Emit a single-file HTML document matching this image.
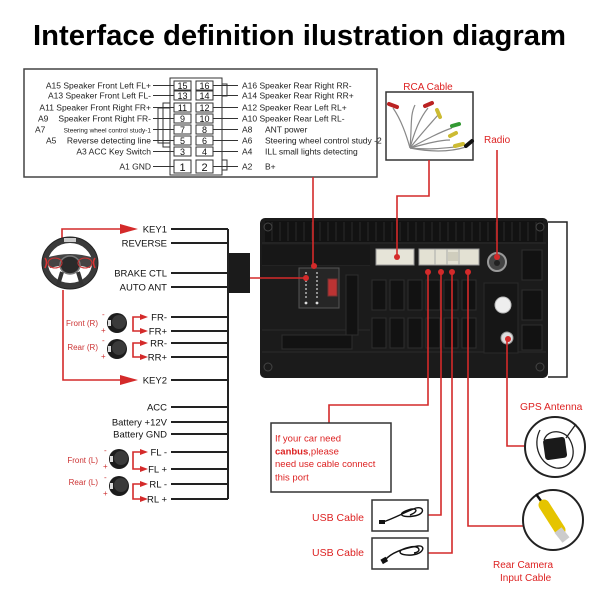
<!DOCTYPE html>
<html><head><meta charset="utf-8"><style>
html,body{margin:0;padding:0;background:#fff;}
svg{display:block;font-family:"Liberation Sans",Arial,sans-serif;}
</style></head><body>
<svg width="600" height="600" viewBox="0 0 600 600" xmlns="http://www.w3.org/2000/svg">
<rect width="600" height="600" fill="#fff"/>
<!-- Title -->
<text x="33" y="45" font-size="29" font-weight="bold" fill="#000" textLength="533" lengthAdjust="spacingAndGlyphs">Interface definition ilustration diagram</text>

<!-- Pin box -->
<rect x="24" y="69" width="353" height="108" fill="#fff" stroke="#444" stroke-width="1.5"/>
<g stroke="#333" stroke-width="1" fill="none">
  <rect x="170" y="78" width="52" height="97"/>
  <path d="M170,103 H163 V147 H170 M170,108 H158 V143 H170"/>
  <path d="M222,84 H227 V96 H222 M222,160 H227 V170 H222"/>
  <!-- cells -->
  <rect x="174" y="81" width="17" height="9"/><rect x="196" y="81" width="17" height="9"/>
  <rect x="174" y="91" width="17" height="9"/><rect x="196" y="91" width="17" height="9"/>
  <rect x="174" y="103" width="17" height="9"/><rect x="196" y="103" width="17" height="9"/>
  <rect x="174" y="114" width="17" height="9"/><rect x="196" y="114" width="17" height="9"/>
  <rect x="174" y="125" width="17" height="9"/><rect x="196" y="125" width="17" height="9"/>
  <rect x="174" y="136" width="17" height="9"/><rect x="196" y="136" width="17" height="9"/>
  <rect x="174" y="147" width="17" height="9"/><rect x="196" y="147" width="17" height="9"/>
  <rect x="174" y="160" width="17" height="13"/><rect x="196" y="160" width="17" height="13"/>
  <!-- leader lines -->
  <path d="M153,85.5 H174 M153,95.5 H174 M153,107.5 H174 M153,118.5 H174 M153,129.5 H174 M153,140.5 H174 M153,151.5 H174 M153,166.5 H174"/>
  <path d="M213,85.5 H238 M213,95.5 H238 M213,107.5 H238 M213,118.5 H238 M213,129.5 H238 M213,140.5 H238 M213,151.5 H238 M213,166.5 H238"/>
</g>
<g font-size="9" fill="#111" text-anchor="middle">
  <text x="182.5" y="89">15</text><text x="204.5" y="89">16</text>
  <text x="182.5" y="99">13</text><text x="204.5" y="99">14</text>
  <text x="182.5" y="111">11</text><text x="204.5" y="111">12</text>
  <text x="182.5" y="122">9</text><text x="204.5" y="122">10</text>
  <text x="182.5" y="133">7</text><text x="204.5" y="133">8</text>
  <text x="182.5" y="144">5</text><text x="204.5" y="144">6</text>
  <text x="182.5" y="155">3</text><text x="204.5" y="155">4</text>
  <text x="182.5" y="171" font-size="11">1</text><text x="204.5" y="171" font-size="11">2</text>
</g>
<g font-size="8.5" fill="#222">
  <g text-anchor="end">
    <text x="151" y="88.5">A15 Speaker Front Left FL+</text>
    <text x="151" y="98.5">A13 Speaker Front Left FL-</text>
    <text x="151" y="110.5">A11 Speaker Front Right FR+</text>
    <text x="151" y="121.5">Speaker Front Right FR-</text>
    <text x="151" y="132.5" font-size="6.5">Steering wheel control study-1</text>
    <text x="151" y="143.5">Reverse detecting line</text>
    <text x="151" y="154.5">A3 ACC Key Switch</text>
    <text x="151" y="169.5">A1 GND</text>
  </g>
  <text x="38" y="121.5">A9</text>
  <text x="35" y="132.5">A7</text>
  <text x="46" y="143.5">A5</text>
  <text x="242" y="88.5">A16 Speaker Rear Right RR-</text>
  <text x="242" y="98.5">A14 Speaker Rear Right RR+</text>
  <text x="242" y="110.5">A12 Speaker Rear Left RL+</text>
  <text x="242" y="121.5">A10 Speaker Rear Left RL-</text>
  <text x="242" y="132.5">A8</text><text x="265" y="132.5">ANT power</text>
  <text x="242" y="143.5">A6</text><text x="265" y="143.5">Steering wheel control study -2</text>
  <text x="242" y="154.5">A4</text><text x="265" y="154.5">ILL small lights detecting</text>
  <text x="242" y="169.5">A2</text><text x="265" y="169.5">B+</text>
</g>

<!-- RCA Cable -->
<text x="428" y="90" font-size="10" fill="#d22" text-anchor="middle">RCA Cable</text>
<rect x="386" y="92" width="87" height="68" fill="#fff" stroke="#333" stroke-width="1.5"/>
<g stroke="#888" stroke-width="1.2" fill="none">
  <path d="M410,148 C405,130 400,118 393,108"/>
  <path d="M410,148 C415,130 420,118 428,108"/>
  <path d="M410,148 C420,135 432,122 438,115"/>
  <path d="M410,148 C425,140 440,132 452,128"/>
  <path d="M410,148 C425,144 440,140 450,140"/>
  <path d="M410,148 C430,150 445,148 455,147"/>
  <path d="M410,148 C430,152 450,152 466,147"/>
  <path d="M410,148 C412,125 410,115 415,105"/>
</g>
<g stroke-width="4" stroke-linecap="round">
  <path d="M389,104 L397,107" stroke="#b22"/>
  <path d="M425,106 L432,103" stroke="#b22"/>
  <path d="M437,110 L440,117" stroke="#cb3"/>
  <path d="M452,126 L459,124" stroke="#393"/>
  <path d="M450,136 L456,133" stroke="#cb3"/>
  <path d="M455,146 L463,144" stroke="#cb3"/>
  <path d="M466,146 L472,141" stroke="#111"/>
</g>

<!-- Radio -->
<text x="484" y="143" font-size="10" fill="#d22">Radio</text>

<!-- Unit -->
<rect x="260" y="218" width="288" height="160" rx="5" fill="#1b1b1b"/>
<rect x="265" y="221" width="278" height="21" fill="#121212"/>
<g stroke="#2b2b2b" stroke-width="1">
  <path d="M272,222 V241 M280,222 V241 M288,222 V241 M296,222 V241 M304,222 V241 M312,222 V241 M320,222 V241 M328,222 V241 M336,222 V241 M344,222 V241 M352,222 V241 M360,222 V241 M368,222 V241 M376,222 V241 M384,222 V241 M392,222 V241 M400,222 V241 M408,222 V241 M416,222 V241 M424,222 V241 M432,222 V241 M440,222 V241 M448,222 V241 M456,222 V241 M464,222 V241 M472,222 V241 M480,222 V241 M488,222 V241 M496,222 V241 M504,222 V241 M512,222 V241 M520,222 V241 M528,222 V241 M536,222 V241"/>
  <path d="M262,243 H546 M262,265 H370 M262,330 H370 M262,352 H546"/>
</g>
<rect x="262" y="245" width="108" height="20" fill="#171717"/>
<g stroke="#2e2e2e" fill="#121212">
  <rect x="372" y="280" width="14" height="30"/><rect x="390" y="280" width="14" height="30"/>
  <rect x="408" y="280" width="14" height="30"/><rect x="426" y="280" width="14" height="30"/>
  <rect x="444" y="280" width="14" height="30"/><rect x="462" y="280" width="14" height="30"/>
  <rect x="372" y="318" width="14" height="30"/><rect x="390" y="318" width="14" height="30"/>
  <rect x="408" y="318" width="14" height="30"/><rect x="426" y="318" width="14" height="30"/>
  <rect x="444" y="318" width="14" height="30"/><rect x="462" y="318" width="14" height="30"/>
  <rect x="522" y="250" width="20" height="30"/><rect x="522" y="290" width="20" height="30"/><rect x="522" y="325" width="20" height="25"/>
  <rect x="346" y="275" width="12" height="60"/>
  <rect x="282" y="335" width="70" height="14"/>
</g>
<rect x="484" y="283" width="34" height="70" fill="#161616" stroke="#2a2a2a"/>
<g fill="none" stroke="#444"><circle cx="268" cy="227" r="4"/><circle cx="540" cy="227" r="4"/><circle cx="268" cy="367" r="4"/><circle cx="540" cy="367" r="4"/></g>
<!-- ISO connector -->
<rect x="299" y="268" width="40" height="40" fill="#262626" stroke="#555"/>
<g fill="#ddd">
  <circle cx="306" cy="273" r="0.9"/><circle cx="306" cy="277" r="0.9"/><circle cx="306" cy="281" r="0.9"/><circle cx="306" cy="285" r="0.9"/><circle cx="306" cy="289" r="0.9"/><circle cx="306" cy="293" r="0.9"/><circle cx="306" cy="297" r="0.9"/><circle cx="306" cy="303" r="1.4"/>
  <circle cx="317" cy="273" r="0.9"/><circle cx="317" cy="277" r="0.9"/><circle cx="317" cy="281" r="0.9"/><circle cx="317" cy="285" r="0.9"/><circle cx="317" cy="289" r="0.9"/><circle cx="317" cy="293" r="0.9"/><circle cx="317" cy="297" r="0.9"/><circle cx="317" cy="303" r="1.4"/>
</g>
<rect x="328" y="279" width="9" height="17" fill="#b33" stroke="#733"/>
<!-- white connectors -->
<rect x="376" y="249" width="38" height="16" fill="#e6e4d8" stroke="#999"/>
<rect x="419" y="249" width="60" height="16" fill="#e3e1d3" stroke="#999"/>
<path d="M435,249 V265 M447,249 V265 M459,249 V265" stroke="#aaa"/>
<rect x="448" y="252" width="10" height="9" fill="#cfcdbd"/>
<!-- antenna socket -->
<circle cx="497" cy="262" r="9" fill="#444" stroke="#9a9a9a" stroke-width="2"/>
<circle cx="497" cy="263" r="3" fill="#222"/>
<circle cx="503" cy="305" r="8" fill="#eee" stroke="#bbb"/>
<circle cx="507" cy="338" r="6" fill="#ddd" stroke="#999"/>

<!-- bracket right of unit -->
<path d="M548,222 H567 V377 H548" fill="none" stroke="#222" stroke-width="1.5"/>

<!-- left black box & bus -->
<rect x="227" y="253" width="23" height="40" fill="#1b1b1b"/>
<path d="M228,229 V499" stroke="#222" stroke-width="2"/>
<g stroke="#222" stroke-width="2">
  <path d="M171,229 H228 M171,243 H228 M171,273 H228 M171,287 H228 M171,317 H228 M171,331 H228 M171,343 H228 M171,357 H228 M171,380 H228 M171,407 H228 M171,422 H228 M171,434 H228 M171,452 H228 M171,469 H228 M171,484 H228 M171,499 H228"/>
</g>
<g font-size="9.5" fill="#111" text-anchor="end">
  <text x="167" y="232.5">KEY1</text>
  <text x="167" y="246.5">REVERSE</text>
  <text x="167" y="276.5">BRAKE CTL</text>
  <text x="167" y="290.5">AUTO ANT</text>
  <text x="167" y="320.5">FR-</text>
  <text x="167" y="334.5">FR+</text>
  <text x="167" y="346.5">RR-</text>
  <text x="167" y="360.5">RR+</text>
  <text x="167" y="383.5">KEY2</text>
  <text x="167" y="410.5">ACC</text>
  <text x="167" y="425.5">Battery +12V</text>
  <text x="167" y="437.5">Battery GND</text>
  <text x="167" y="455.5">FL -</text>
  <text x="167" y="472.5">FL +</text>
  <text x="167" y="487.5">RL -</text>
  <text x="167" y="502.5">RL +</text>
</g>

<!-- Red connectors -->
<g stroke="#d42a2a" stroke-width="1.6" fill="none">
  <path d="M250,278 H306"/>
  <path d="M313,177 V266"/>
  <path d="M429,160 V196 H397 V257"/>
  <path d="M497,150 V257"/>
  <path d="M428,272 V405 H329 V423"/>
  <path d="M441,272 V515 H428"/>
  <path d="M452,272 V553 H428"/>
  <path d="M468,272 V526 H523"/>
  <path d="M507,338 V446 H525"/>
  <!-- steering -->
  <path d="M62,238 V229 H124"/>
  <path d="M63,290 V380 H124"/>
  <!-- speaker brackets -->
  <path d="M141,317 H133 V331 H141"/>
  <path d="M141,343 H133 V357 H141"/>
  <path d="M141,452 H133 V469 H141"/>
  <path d="M141,484 H133 V499 H141"/>
</g>
<g fill="#d42a2a">
  <circle cx="306" cy="278" r="3"/><circle cx="314" cy="266" r="3"/>
  <circle cx="397" cy="257" r="3"/><circle cx="497" cy="257" r="3"/>
  <circle cx="428" cy="272" r="3"/><circle cx="441" cy="272" r="3"/><circle cx="452" cy="272" r="3"/><circle cx="468" cy="272" r="3"/>
  <circle cx="508" cy="339" r="3"/>
  <polygon points="120,224 138,229 120,234"/>
  <polygon points="120,375 138,380 120,385"/>
  <polygon points="140,314 148,317 140,320"/><polygon points="140,328 148,331 140,334"/>
  <polygon points="140,340 148,343 140,346"/><polygon points="140,354 148,357 140,360"/>
  <polygon points="140,449 148,452 140,455"/><polygon points="140,466 148,469 140,472"/>
  <polygon points="140,481 148,484 140,487"/><polygon points="140,496 148,499 140,502"/>
</g>

<!-- Steering wheel -->
<ellipse cx="70" cy="263" rx="25" ry="23" fill="none" stroke="#3a3a3a" stroke-width="6"/>
<ellipse cx="70" cy="263" rx="28" ry="26" fill="none" stroke="#222" stroke-width="1"/>
<path d="M46,258 Q70,250 94,258 L90,268 Q70,262 50,268 Z" fill="#444"/>
<ellipse cx="70" cy="265" rx="10" ry="9" fill="#2a2a2a" stroke="#777" stroke-width="1.5"/>
<path d="M62,272 L58,285 M78,272 L82,285" stroke="#333" stroke-width="4"/>
<path d="M45,258 Q48,262 45,268 M95,258 Q92,262 95,268" stroke="#d33" stroke-width="1.5" fill="none"/>
<ellipse cx="55" cy="263" rx="7" ry="5" fill="none" stroke="#c33" stroke-width="1"/>
<ellipse cx="85" cy="263" rx="7" ry="5" fill="none" stroke="#c33" stroke-width="1"/>
<rect x="64" y="238" width="12" height="4" fill="#ccc"/>

<!-- Speaker knobs -->
<g>
  <circle cx="117" cy="323" r="10" fill="#1c1c1c"/><circle cx="119" cy="322" r="7" fill="#3a3a3a"/><rect x="108" y="320" width="3" height="6" fill="#ddd"/>
  <circle cx="117" cy="349" r="10" fill="#1c1c1c"/><circle cx="119" cy="348" r="7" fill="#3a3a3a"/><rect x="108" y="346" width="3" height="6" fill="#ddd"/>
  <circle cx="119" cy="459" r="10" fill="#1c1c1c"/><circle cx="121" cy="458" r="7" fill="#3a3a3a"/><rect x="110" y="456" width="3" height="6" fill="#ddd"/>
  <circle cx="119" cy="486" r="10" fill="#1c1c1c"/><circle cx="121" cy="485" r="7" fill="#3a3a3a"/><rect x="110" y="483" width="3" height="6" fill="#ddd"/>
</g>
<g font-size="8" fill="#c33">
  <g text-anchor="end">
    <text x="98" y="326">Front (R)</text>
    <text x="98" y="350">Rear (R)</text>
    <text x="98" y="463">Front (L)</text>
    <text x="98" y="485">Rear (L)</text>
  </g>
  <text x="102" y="317">-</text><text x="101" y="333">+</text>
  <text x="102" y="343">-</text><text x="101" y="359">+</text>
  <text x="104" y="453">-</text><text x="103" y="469">+</text>
  <text x="104" y="480">-</text><text x="103" y="496">+</text>
</g>

<!-- Canbus box -->
<rect x="271" y="423" width="120" height="69" fill="#fff" stroke="#333" stroke-width="1.5"/>
<g font-size="9.5" fill="#d22">
  <text x="275" y="441.5">If your car need</text>
  <text x="275" y="454.5"><tspan font-weight="bold">canbus</tspan>,please</text>
  <text x="275" y="467">need use cable connect</text>
  <text x="275" y="480.5">this port</text>
</g>

<!-- USB cables -->
<rect x="372" y="500" width="56" height="31" fill="#fff" stroke="#333" stroke-width="1.5"/>
<rect x="372" y="538" width="56" height="31" fill="#fff" stroke="#333" stroke-width="1.5"/>
<g stroke="#111" stroke-width="1.4" fill="none">
  <path d="M383,522 C395,518 405,512 416,508 C424,506 426,514 414,516 C402,518 396,514 408,510 C416,507 420,511 410,515"/>
  <path d="M385,560 C392,552 405,548 418,546 C426,545 424,554 412,555 C398,556 395,550 410,547 C420,545 422,552 414,553"/>
</g>
<rect x="379" y="520" width="6" height="4" fill="#111"/>
<rect x="381" y="558" width="6" height="5" fill="#111" transform="rotate(-30 384 560)"/>
<g font-size="10.5" fill="#d22" text-anchor="end">
  <text x="364" y="521">USB Cable</text>
  <text x="364" y="556">USB Cable</text>
</g>

<!-- GPS -->
<text x="520" y="410" font-size="10.3" fill="#d22">GPS Antenna</text>
<circle cx="555" cy="447" r="30" fill="#fff" stroke="#222" stroke-width="2"/>
<path d="M540,430 C532,445 540,465 556,468 C570,470 578,455 570,440 C565,430 548,428 544,440" stroke="#222" stroke-width="1.3" fill="none"/>
<rect x="544" y="438" width="22" height="21" rx="3" fill="#1a1a1a" transform="rotate(-8 555 448)"/>
<path d="M566,438 L576,424" stroke="#222" stroke-width="1.3"/>

<!-- Camera -->
<circle cx="553" cy="520" r="30" fill="#fff" stroke="#222" stroke-width="2"/>
<path d="M536,494 L544,505" stroke="#111" stroke-width="2.5"/>
<path d="M544,505 L560,530" stroke="#e5c400" stroke-width="11" stroke-linecap="round"/>
<path d="M558,530 L566,540" stroke="#ccc" stroke-width="9"/>

<text x="493" y="568" font-size="10" fill="#d22">Rear Camera</text>
<text x="500" y="581" font-size="10" fill="#d22">Input Cable</text>
</svg>
</body></html>
